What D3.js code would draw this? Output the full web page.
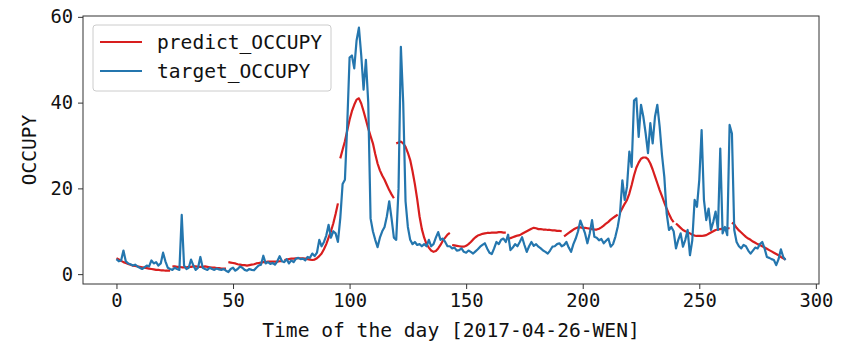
<!DOCTYPE html>
<html>
<head>
<meta charset="utf-8">
<script src="https://cdn.jsdelivr.net/npm/d3@7"></script>
<style>
  body { margin: 0; background: #fff; }
  svg { display: block; }
  text { font-family: "DejaVu Sans Mono", monospace; fill: #111; }
</style>
</head>
<body>
<svg id="chart" width="841" height="345"></svg>
<script>
// ---- data ----
const target = [
  3.5,3.0,3.2,5.5,3.0,2.5,2.3,2.0,2.2,1.8,1.5,1.2,1.6,2.0,1.8,3.2,2.5,2.8,2.0,2.5,
  5.0,3.0,1.5,1.2,1.0,1.5,1.2,1.0,13.8,2.0,1.2,1.5,3.4,2.0,1.0,1.5,4.0,1.5,1.2,1.0,
  1.5,1.2,1.0,1.3,1.1,1.0,1.2,0.8,0.5,1.2,1.5,0.8,1.2,1.8,1.5,1.0,0.8,1.2,1.0,0.9,
  1.5,2.0,2.2,4.3,2.5,2.8,2.4,2.6,2.2,3.0,4.2,3.0,2.8,3.5,2.5,3.2,2.8,3.6,3.8,3.5,
  3.6,3.2,4.0,3.8,4.8,4.2,5.0,8.0,6.5,7.5,9.0,11.5,8.5,10.0,9.5,7.5,
  13,21,22,35,50.5,51,48,54.5,57.5,51,43,50,40,13,10,8,6.3,8.5,10,11,13.5,17,13,8.5,
  8,20,53,40,17,11,8,7,7.5,6.8,7,6.5,7,6.5,8,6.5,7,8.5,9.8,8,8.3,7.5,6.5,6.5,
  6,6.2,5.5,5.6,6.0,5.2,5.0,5.5,5.2,4.8,5.3,5.8,6.4,6.8,7.2,6,5,4.7,6,7.5,7,8,8.3,7.5,
  9.2,5.6,6.2,7,6.5,7.5,8.6,6.8,5.2,6.5,7.5,6.6,7,6.4,6,5.5,5.2,4.8,5.5,6.4,6.5,7,7.2,6.5,
  6.8,7.5,6.2,5.2,7,8.3,10,12.5,11,9.5,7.2,9.5,12.6,8.7,8.5,7.9,8.2,7.2,7.8,8.3,6.4,7,8.7,11,
  14.2,21.9,17.3,20.4,28.6,25,40.5,41,32,39.5,36.7,32.8,28.2,35.2,30.5,36.7,39.5,34.4,27.8,22.7,14.2,10.3,11,10,
  6,8,9.5,6.4,8,10.3,4.4,7.9,17.3,15.7,22,33.6,17.3,12.6,15.3,10.3,12.2,14.6,10.3,29.3,9.5,11,9.1,34.8,
  32.8,10.3,7.5,6.5,6,6.8,6.5,5.5,4.8,5.5,6.2,6,7,7.5,6,4,3.8,3.5,3.3,2.1,3.5,5.8,4,3.3
];

const predict = [
  3.7,3.4,3.1,2.8,2.6,2.4,2.2,2.0,1.9,1.8,1.7,1.6,1.5,1.4,1.3,1.2,1.1,1.0,1.0,0.9,0.9,0.8,0.8,0.8,
  1.8,1.8,1.7,1.7,1.6,1.6,1.6,1.7,1.7,1.8,1.8,1.7,1.7,1.7,1.8,1.7,1.6,1.5,1.5,1.4,1.4,1.3,1.3,1.3,
  2.8,2.7,2.6,2.5,2.3,2.2,2.1,2.1,2.0,2.1,2.2,2.3,2.5,2.6,2.7,2.8,2.8,2.9,2.9,2.9,2.9,2.9,3.0,3.0,
  3.3,3.4,3.5,3.6,3.6,3.7,3.7,3.7,3.7,3.6,3.5,3.4,3.3,3.4,3.7,4.2,4.8,5.8,7.0,8.5,10.0,11.8,14.0,16.5,
  27,29,31,33.5,36,38,39.5,40.7,41,39.8,38,36,34,32.2,30.5,28,25.8,24.2,23,22,20.8,19.6,18.6,17.7,
  30.5,30.7,30.9,30.5,29.7,28.3,26.6,24,21,17.5,13.5,10.5,8.5,7,6.2,5.5,5.2,5.4,6,6.8,7.8,8.5,9.2,9.6,
  6.8,6.7,6.6,6.5,6.4,6.4,6.6,7,7.5,8.1,8.6,9,9.2,9.4,9.5,9.6,9.6,9.7,9.7,9.7,9.8,9.8,9.7,9.7,
  8.3,8.4,8.6,8.8,9,9.1,9.4,9.7,10,10.3,10.6,10.8,10.7,10.5,10.5,10.4,10.4,10.3,10.3,10.2,10.2,10.1,10.1,10.0,
  8.8,9.2,9.6,10,10.4,10.7,10.9,10.9,10.8,10.8,10.7,10.6,10.5,10.4,10.4,10.6,10.9,11.3,11.8,12.2,12.7,13.1,13.5,13.9,
  14.4,15.4,16.4,17.3,18.8,20.8,23,24.8,26,26.9,27.2,27.2,26.8,25.8,24.4,22.8,21.2,19.6,18.2,16.7,15.3,14.0,12.9,12.1,
  11.8,11.3,10.8,10.3,10,9.8,9.5,9.2,9,8.9,8.9,8.9,9,9.1,9.4,9.7,10,10.3,10.4,10.5,10.6,10.6,10.7,10.7,
  12,11.6,10.8,10.2,9.7,9.2,8.7,8.3,8,7.6,7.3,7,6.8,6.5,6.2,5.9,5.6,5.3,5,4.7,4.4,4,3.7,3.4
];
const predictWindow = 24;          // prediction blocks (drawn as separate pieces)
const xTicks = [0, 50, 100, 150, 200, 250, 300];
const yTicks = [0, 20, 40, 60];
const seriesNames = ["predict_OCCUPY", "target_OCCUPY"];
const xLabel = "Time of the day [2017-04-26-WEN]";
const yLabel = "OCCUPY";

// ---- layout ----
const plot = { left: 83, right: 819, top: 16, bottom: 284 };
const colors = { predict: "#d81e1e", target: "#2476ae" };

const svg = d3.select("#chart");
const x = d3.scaleLinear().domain([-14.35, 301.35]).range([plot.left, plot.right]);
const y = d3.scaleLinear().domain([-2.3, 60.2]).range([plot.bottom, plot.top]);

const line = d3.line().x(d => x(d[0])).y(d => y(d[1]));

// predict, in blocks (plotted first)
const blocks = d3.groups(predict.map((v, i) => [i, v]), d => Math.floor(d[0] / predictWindow));
svg.selectAll("path.pred").data(blocks).join("path")
  .attr("class", "pred")
  .attr("d", d => line(d[1]))
  .attr("fill", "none")
  .attr("stroke", colors.predict)
  .attr("stroke-width", 2.2)
  .attr("stroke-linejoin", "round");

// target (on top)
svg.append("path")
  .datum(target.map((v, i) => [i, v]))
  .attr("d", line)
  .attr("fill", "none")
  .attr("stroke", colors.target)
  .attr("stroke-width", 2.2)
  .attr("stroke-linejoin", "round");

// frame
svg.append("rect")
  .attr("x", plot.left).attr("y", plot.top)
  .attr("width", plot.right - plot.left).attr("height", plot.bottom - plot.top)
  .attr("fill", "none").attr("stroke", "#333").attr("stroke-width", 1);

// axes
const xAxis = svg.append("g")
  .attr("transform", `translate(0,${plot.bottom})`)
  .call(d3.axisBottom(x).tickValues(xTicks).tickSize(5).tickPadding(5).tickFormat(d3.format("d")));
const yAxis = svg.append("g")
  .attr("transform", `translate(${plot.left},0)`)
  .call(d3.axisLeft(y).tickValues(yTicks).tickSize(5).tickPadding(5).tickFormat(d3.format("d")));
[xAxis, yAxis].forEach(a => {
  a.select(".domain").remove();
  a.selectAll(".tick line").attr("stroke", "#333");
  a.selectAll(".tick text")
    .style("font-family", "'DejaVu Sans Mono', monospace")
    .style("font-size", "18.8px")
    .attr("fill", "#111");
});

// labels
svg.append("text")
  .attr("x", (plot.left + plot.right) / 2).attr("y", 337)
  .attr("text-anchor", "middle")
  .style("font-size", "19.6px")
  .text(xLabel);
svg.append("text")
  .attr("transform", `translate(36,${(plot.top + plot.bottom) / 2}) rotate(-90)`)
  .attr("text-anchor", "middle")
  .style("font-size", "19.5px")
  .text(yLabel);

// legend
const lg = svg.append("g");
lg.append("rect")
  .attr("x", 93).attr("y", 25).attr("width", 238).attr("height", 66)
  .attr("rx", 3).attr("fill", "#fff").attr("fill-opacity", 0.85)
  .attr("stroke", "#ccc").attr("stroke-width", 1);
[colors.predict, colors.target].forEach((c, i) => {
  const cy = 42 + i * 29;
  lg.append("line").attr("x1", 100).attr("x2", 142).attr("y1", cy).attr("y2", cy)
    .attr("stroke", c).attr("stroke-width", 2.2);
  lg.append("text").attr("x", 157).attr("y", cy).attr("dy", "0.35em")
    .style("font-size", "19.6px").text(seriesNames[i]);
});
</script>
</body>
</html>
